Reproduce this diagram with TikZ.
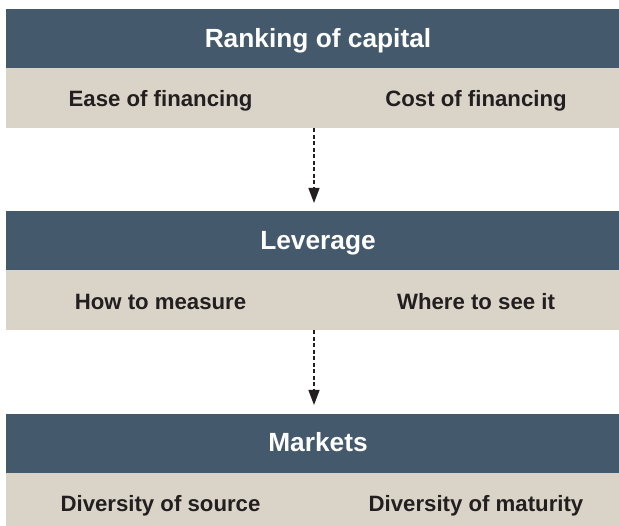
\documentclass[tikz,border=0pt]{standalone}
\usepackage{fontspec}
\setmainfont{Liberation Sans}
\usetikzlibrary{arrows.meta}
\definecolor{slate}{HTML}{44596B}
\definecolor{sand}{HTML}{DAD4C8}
\definecolor{ink}{HTML}{231F20}
\begin{document}
\begin{tikzpicture}[x=1pt,y=-1pt,
  bar/.style={inner sep=0pt,outer sep=0pt,minimum width=613pt,anchor=north west},
  headbar/.style={bar,fill=slate,minimum height=59.5pt},
  subbar/.style={bar,fill=sand,minimum height=60pt},
  headtxt/.style={text=white,font=\fontsize{26.3}{30}\selectfont\bfseries,inner sep=0pt,anchor=base},
  subtxt/.style={text=ink,font=\fontsize{22.2}{26}\selectfont\bfseries,inner sep=0pt,anchor=base},
  arr/.style={draw=ink,line width=1.3pt,dash pattern=on 4pt off 2.5pt,
    -{Triangle[width=11pt,length=15pt]},shorten >=8pt}]
\useasboundingbox (0,0) rectangle (619,526);
% blocks
\node[headbar] (h1) at (6,9) {};
\node[subbar]  (s1) at (6,68.5) {};
\node[headbar] (h2) at (6,211) {};
\node[subbar]  (s2) at (6,270.5) {};
\node[headbar] (h3) at (6,414) {};
\node[subbar,minimum height=53pt]  (s3) at (6,473) {};
% texts
\node[headtxt] (t1) at (318,47.5) {Ranking of capital};
\node[subtxt] (t1a) at (160.5,106.5) {Ease of financing};
\node[subtxt] (t1b) at (476,106.5) {Cost of financing};
\node[headtxt] (t2) at (318,249.5) {Leverage};
\node[subtxt] (t2a) at (160.5,309.5) {How to measure};
\node[subtxt] (t2b) at (476,309.5) {Where to see it};
\node[headtxt] (t3) at (318,452) {Markets};
\node[subtxt] (t3a) at (160.5,511.5) {Diversity of source};
\node[subtxt] (t3b) at (476,511.5) {Diversity of maturity};
% arrows
\coordinate (ax) at (314,0);
\draw[arr] (s1.south -| ax) -- (h2.north -| ax);
\draw[arr,shorten >=9pt] (s2.south -| ax) -- (h3.north -| ax);
\end{tikzpicture}
\end{document}
